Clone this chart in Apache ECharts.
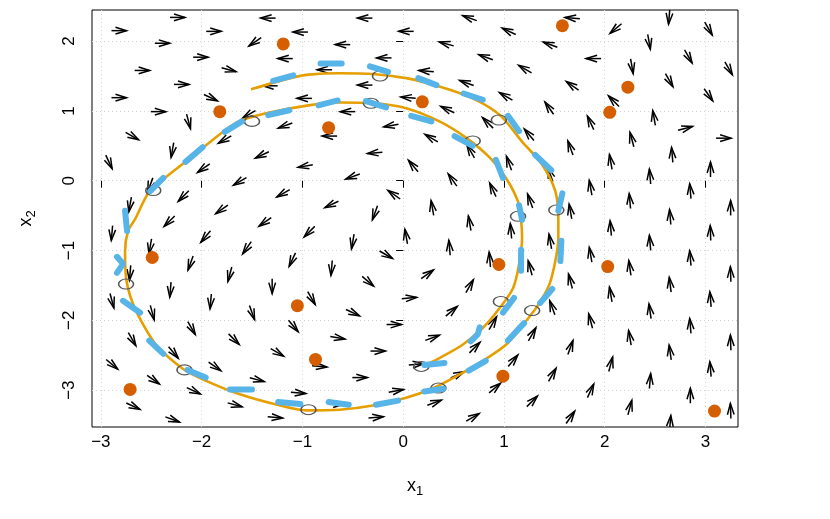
<!DOCTYPE html>
<html>
<head>
  <meta charset="utf-8">
</head>
<body style="margin: 0">
  <div id="container" style="width: 830px; height: 519px"></div>
  <script src="https://cdn.jsdelivr.net/npm/echarts@6.0.0/dist/echarts.min.js"></script>
  <script>
    const xTicks = [-3, -2, -1, 0, 1, 2, 3];
    const yTicks = [-3, -2, -1, 0, 1, 2];

    // vector field: arrow centre (x, y) and drawn direction in degrees
    const arrowX = [
      -2.24, -1.34, -2.82, -1.88, -1.02, -2.39, -1.47, -2.01, -1.17, -2.59, -1.73, -2.20, -1.32, -2.82, -1.91, -0.98,
      -2.43, -2.13, -1.53, -1.17, -2.69, -2.29, -1.77, -1.40, -0.97, -2.92, -1.98, -2.51, -1.62, -1.19, -2.18, -2.71, -1.80,
      -0.38, 0.66, 0.03, 1.05, -0.60, 0.43, -0.19, 0.82, -0.78, 0.23, -0.38, 0.63, 0.05, 1.02, -0.55, 0.44,
      -0.12, 0.84, -0.73, 0.28, 0.67, -0.28, 0.10, 1.05, -0.50, 0.49, -0.09, 0.89, -0.71, 0.29, -0.28,
      1.68, 2.64, 2.11, 3.03, 1.46, 2.44, 1.89, 2.83, 3.23, 1.21, 2.27, 1.68, 2.64, 3.03, 2.09, 1.45, 2.49, 2.80,
      1.86, 1.25, 3.18, 2.27, 1.66, 2.67, 2.06, 3.05, 1.46, 2.45, 1.86, 2.85, 2.25, 1.26, 3.25, 1.66, 2.65,
      -2.32, -1.37, -2.89, -1.96, -0.93, -2.51, -1.55, -2.11, -1.10, -2.71, -1.72, -2.31, -1.30, -2.89, -1.91, -2.49,
      -1.50, -2.10, -1.09, -2.69, -1.68, -2.28, -1.25, -2.89, -1.87, -2.48, -1.45, -2.08, -1.04, -2.68, -1.67, -2.29, -1.27,
      -0.50, 0.03, 0.46, 0.66, 1.07, -0.71, -0.17, 0.86, 0.24, -0.35, -0.91, 0.66, 0.06, 0.48, -0.50, 0.89,
      -0.09, -0.65, 0.29, 0.71, -0.25, 1.09, -0.83, 0.13, 0.54, -0.43, 0.91, -0.07, 0.31, -0.66, 0.69, -0.27,
      2.06, 3.05, 1.46, 2.45, 1.86, 2.85, 1.26, 2.25, 3.25, 1.66, 2.65, 3.05, 1.48, 2.06, 2.45, 2.85, 3.25,
      1.28, 1.86, 2.25, 2.65, 3.05, 1.66, 2.06, 2.45, 2.85, 3.25, 1.48, 1.86, 2.25, 2.65, 1.28, 1.66
    ];
    const arrowY = [
      2.34, 2.33, 2.15, 2.14, 2.13, 1.97, 1.99, 1.77, 1.75, 1.58, 1.59, 1.38, 1.36, 1.19, 1.19, 1.18,
      0.99, 0.85, 0.95, 0.79, 0.64, 0.44, 0.59, 0.37, 0.21, 0.27, 0.18, -0.06, -0.01, -0.18, -0.22, -0.34, -0.41,
      2.33, 2.33, 2.14, 2.14, 1.95, 1.96, 1.76, 1.77, 1.59, 1.57, 1.37, 1.40, 1.19, 1.21, 0.99, 1.02,
      0.79, 0.83, 0.64, 0.61, 0.42, 0.40, 0.21, 0.25, 0.06, 0.01, -0.20, -0.13, -0.34, -0.39, -0.46,
      2.33, 2.35, 2.18, 2.18, 1.95, 1.99, 1.75, 1.78, 1.61, 1.60, 1.64, 1.36, 1.44, 1.23, 1.14, 1.04, 0.90, 0.75,
      0.83, 0.66, 0.61, 0.59, 0.47, 0.37, 0.27, 0.16, 0.09, 0.06, -0.10, -0.15, -0.29, -0.29, -0.39, -0.44, -0.52,
      -0.58, -0.59, -0.75, -0.80, -0.73, -0.94, -0.96, -1.18, -1.13, -1.32, -1.34, -1.56, -1.51, -1.72, -1.73, -1.89,
      -1.89, -2.11, -2.08, -2.27, -2.27, -2.46, -2.46, -2.63, -2.66, -2.85, -2.85, -3.01, -3.04, -3.23, -3.21, -3.42, -3.39,
      -0.87, -0.80, -0.96, -0.61, -0.72, -1.25, -1.06, -1.13, -1.34, -1.44, -1.68, -1.51, -1.68, -1.87, -1.89, -2.04,
      -2.06, -2.25, -2.25, -2.39, -2.44, -2.58, -2.66, -2.63, -2.78, -2.82, -2.97, -3.01, -3.18, -3.20, -3.39, -3.39,
      -0.68, -0.75, -0.87, -0.89, -1.06, -1.11, -1.25, -1.25, -1.34, -1.44, -1.49, -1.70, -1.82, -1.63, -1.87, -2.08, -2.32,
      -2.20, -2.01, -2.25, -2.46, -2.70, -2.39, -2.63, -2.87, -3.08, -3.30, -2.78, -3.01, -3.25, -3.47, -3.16, -3.39
    ];
    const arrowDir = [
      0, 180, 0, 0, 180, 0, -145, 0, 180, 0, -15, 0, 180, 0, -25, 180,
      0, -75, 210, 200, -30, -100, -150, -155, 190, -65, -145, -110, -150, -150, -135, -100, -145,
      180, 160, 180, 155, 180, 165, 180, 160, 180, 175, 180, 160, 175, 150, 180, 155,
      190, 135, 180, 150, 120, 185, 130, 110, 200, 125, 145, 115, 205, 100, -110,
      175, -95, -140, -60, 160, -80, 180, -60, -60, 150, -80, 145, -60, -55, 135, 125, 100, 15,
      115, 130, 0, 105, 110, 95, 100, 90, 110, 95, 100, 95, 95, 110, 90, 100, 95,
      -135, -145, -95, -130, -135, -100, -125, -110, -115, -95, -105, -95, -90, -75, -95, -75,
      -70, -60, -50, -60, -45, -50, -30, -40, -35, -35, -15, -25, -5, -25, -15, -20, -5,
      -100, 100, 95, 100, 95, -95, -30, 95, 35, -40, -60, 60, 5, 40, -25, 60,
      0, -10, 20, 45, 0, 50, -5, 5, 25, 0, 40, 10, 20, 0, 30, 5,
      95, 92, 100, 95, 100, 95, 105, 98, 92, 105, 97, 95, 110, 100, 98, 95, 92,
      60, 105, 100, 98, 95, 70, 75, 85, 90, 92, 60, 65, 75, 85, 45, 55
    ];

    // smooth trajectory (orange)
    const pathX = [
      -1.51, -1.12, -0.94, -0.63, -0.30, 0.03, 0.36, 0.69, 0.96, 1.18, 1.38, 1.51, 1.54, 1.54, 1.51, 1.45,
      1.33, 1.18, 1.02, 0.79, 0.53, 0.30, 0.03, -0.30, -0.63, -0.96, -1.25, -1.62, -1.95, -2.18, -2.44,
      -2.58, -2.69, -2.75, -2.76, -2.73, -2.66, -2.53, -2.39, -2.11, -1.78, -1.63, -1.35, -0.94, -0.63,
      -0.30, 0.03, 0.36, 0.63, 0.86, 1.02, 1.14, 1.17, 1.18, 1.15, 1.09, 0.96, 0.79, 0.59, 0.36, 0.20
    ];
    const pathY = [
      1.31, 1.47, 1.52, 1.54, 1.53, 1.47, 1.35, 1.18, 0.94, 0.56, 0.23, -0.15, -0.56, -0.82, -1.15, -1.49,
      -1.80, -2.08, -2.35, -2.58, -2.80, -2.97, -3.11, -3.22, -3.28, -3.29, -3.21, -3.06, -2.87, -2.70, -2.37,
      -2.06, -1.73, -1.39, -1.01, -0.72, -0.55, -0.18, 0.01, 0.33, 0.71, 0.85, 0.97, 1.08, 1.12,
      1.11, 1.04, 0.85, 0.61, 0.33, 0.04, -0.30, -0.56, -0.82, -1.20, -1.54, -1.82, -2.11, -2.35, -2.54, -2.65
    ];

    // estimated path (blue, dashed); null separates dashes
    const estX = [
      -1.29, -1.09, null, -0.82, -0.61, null, -0.33, -0.15, null, 0.15, 0.33, null, 0.60, 0.79, null,
      1.04, 1.15, null, 1.31, 1.47, null, 1.58, 1.54, null, 1.57, 1.56, null, 1.48, 1.36, null,
      1.20, 1.04, null, 0.82, 0.65, null, 0.40, 0.21, null, -0.05, -0.27, null, -0.54, -0.74, null,
      -1.02, -1.24, null, -1.50, -1.72, null, -1.96, -2.14, null, -2.38, -2.52, null, -2.61, -2.78, null,
      -2.84, -2.78, -2.84, null, -2.74, -2.76, null, -2.51, -2.38, null, -2.16, -1.99, null, -1.77, -1.60, null,
      -1.34, -1.13, null, -0.84, -0.65, null, -0.37, -0.17, null, 0.08, 0.28, null, 0.51, 0.69, null,
      0.92, 0.99, null, 1.15, 1.18, null, 1.17, 1.17, null, 1.10, 0.99, null, 0.76, 0.74, 0.67, null, 0.41, 0.21
    ];
    const estY = [
      1.43, 1.51, null, 1.68, 1.68, null, 1.64, 1.56, null, 1.47, 1.37, null, 1.25, 1.16, null,
      0.93, 0.71, null, 0.37, 0.15, null, -0.18, -0.43, null, -0.86, -1.15, null, -1.55, -1.75, null,
      -2.04, -2.29, null, -2.58, -2.72, null, -2.98, -3.02, null, -3.15, -3.21, null, -3.21, -3.17, null,
      -3.20, -3.17, null, -2.99, -2.99, null, -2.82, -2.71, null, -2.48, -2.29, null, -1.89, -1.72, null,
      -1.32, -1.19, -1.09, null, -0.72, -0.43, null, -0.15, 0.04, null, 0.27, 0.48, null, 0.70, 0.85, null,
      0.94, 1.01, null, 1.08, 1.15, null, 1.14, 1.05, null, 0.93, 0.85, null, 0.64, 0.50, null,
      0.30, 0.04, null, -0.35, -0.56, null, -0.99, -1.29, null, -1.68, -1.89, null, -2.10, -2.20, -2.30, null, -2.61, -2.64
    ];

    // states at observation times (open grey circles)
    const stateX = [-0.23, -0.32, -1.50, -2.48, 0.69, 0.95, 1.14, 1.52, 0.97, 1.28, 0.18, 0.35, -0.94, -2.17, -2.75];
    const stateY = [1.50, 1.11, 0.85, -0.14, 0.57, 0.87, -0.51, -0.42, -1.73, -1.86, -2.66, -2.97, -3.28, -2.71, -1.48];

    // observations (filled points)
    const obsX = [-1.19, 1.58, 2.23, 2.05, 0.19, -1.82, -0.74, -2.49, -1.05, -0.87, 0.95, 0.99, -2.71, 2.03, 3.09];
    const obsY = [1.96, 2.22, 1.34, 0.98, 1.13, 0.99, 0.76, -1.10, -1.79, -2.56, -1.20, -2.80, -2.99, -1.23, -3.30];

    const font = '"Liberation Sans", Arial, Helvetica, sans-serif';
    const minusFmt = v => (v < 0 ? '\u2212' + Math.abs(v) : String(v));
    const ARROW_LEN = 15, HEAD_LEN = 11.5, HEAD_ANG = 17 * Math.PI / 180;

    function renderArrow(params, api) {
      const c = api.coord([api.value(0), api.value(1)]);
      const a = api.value(2) * Math.PI / 180;
      const ux = Math.cos(a), uy = -Math.sin(a);
      const tip = [c[0] + ux * ARROW_LEN / 2, c[1] + uy * ARROW_LEN / 2];
      const tail = [c[0] - ux * ARROW_LEN / 2, c[1] - uy * ARROW_LEN / 2];
      const barb = s => {
        const b = a + Math.PI + s * HEAD_ANG;
        return [tip[0] + HEAD_LEN * Math.cos(b), tip[1] - HEAD_LEN * Math.sin(b)];
      };
      return {
        type: 'group',
        children: [
          { type: 'polyline', shape: { points: [tail, tip] }, style: { stroke: '#000', lineWidth: 1.5, fill: null } },
          { type: 'polyline', shape: { points: [barb(1), tip, barb(-1)] }, style: { stroke: '#000', lineWidth: 1.5, fill: null } }
        ]
      };
    }

    const nameRich = {
      v: { fontSize: 18, fontFamily: font, color: '#000' },
      s: { fontSize: 13, fontFamily: font, color: '#000', padding: [11, 0, 0, 0] }
    };

    const gridLines = xTicks.map(v => ({ xAxis: v })).concat(yTicks.map(v => ({ yAxis: v })));

    var dom = document.getElementById('container');
    var myChart = echarts.init(dom, null, { renderer: 'canvas' });

    var option = {
      animation: false,
      backgroundColor: '#fff',
      grid: {
        left: 92, right: 92, top: 10, bottom: 92,
        show: true, borderColor: '#000', borderWidth: 1
      },
      xAxis: {
        type: 'value', min: -3.088, max: 3.323,
        axisLine: { show: false },
        axisTick: { show: true, length: 7, customValues: xTicks, lineStyle: { color: '#000' } },
        axisLabel: { customValues: xTicks, formatter: minusFmt, color: '#000', fontSize: 17, fontFamily: font, margin: 7 },
        splitLine: { show: false },
        name: '{v|x}{s|1}', nameLocation: 'middle', nameGap: 47,
        nameTextStyle: { rich: nameRich }
      },
      yAxis: {
        type: 'value', min: -3.528, max: 2.446,
        axisLine: { show: false },
        axisTick: { show: true, length: 7, customValues: yTicks, lineStyle: { color: '#000' } },
        axisLabel: { customValues: yTicks, formatter: minusFmt, color: '#000', fontSize: 17, fontFamily: font, margin: 14, rotate: 90 },
        splitLine: { show: false },
        name: '{v|x}{s|2}', nameLocation: 'middle', nameGap: 54, nameRotate: 90,
        nameTextStyle: { rich: nameRich }
      },
      series: [
        {
          type: 'line', data: [], z: 0, silent: true,
          markLine: {
            z: 0, silent: true, symbol: ['none', 'none'], label: { show: false },
            lineStyle: { color: '#d3d3d3', type: [1, 3], width: 1 },
            data: gridLines
          }
        },
        {
          type: 'custom', z: 1, clip: true, silent: true,
          renderItem: renderArrow,
          encode: { x: 0, y: 1 },
          data: arrowX.map((x, i) => [x, arrowY[i], arrowDir[i]])
        },
        {
          type: 'line', z: 2, smooth: 0.3, showSymbol: false, silent: true,
          lineStyle: { color: '#E69F00', width: 2.6 },
          data: pathX.map((x, i) => [x, pathY[i]])
        },
        {
          type: 'scatter', z: 3, silent: true,
          symbol: 'circle', symbolSize: [15, 10],
          itemStyle: { color: 'rgba(0,0,0,0)', borderColor: '#555', borderWidth: 1.3, opacity: 1 },
          data: stateX.map((x, i) => [x, stateY[i]])
        },
        {
          type: 'line', z: 4, showSymbol: false, silent: true, connectNulls: false,
          lineStyle: { color: '#56B4E9', width: 6, cap: 'round' },
          data: estX.map((x, i) => (x == null ? '-' : [x, estY[i]]))
        },
        {
          type: 'scatter', z: 5, silent: true,
          symbolSize: 13,
          itemStyle: { color: '#D55E00', opacity: 1 },
          data: obsX.map((x, i) => [x, obsY[i]])
        }
      ]
    };

    myChart.setOption(option);
    window.addEventListener('resize', myChart.resize);
  </script>
</body>
</html>
